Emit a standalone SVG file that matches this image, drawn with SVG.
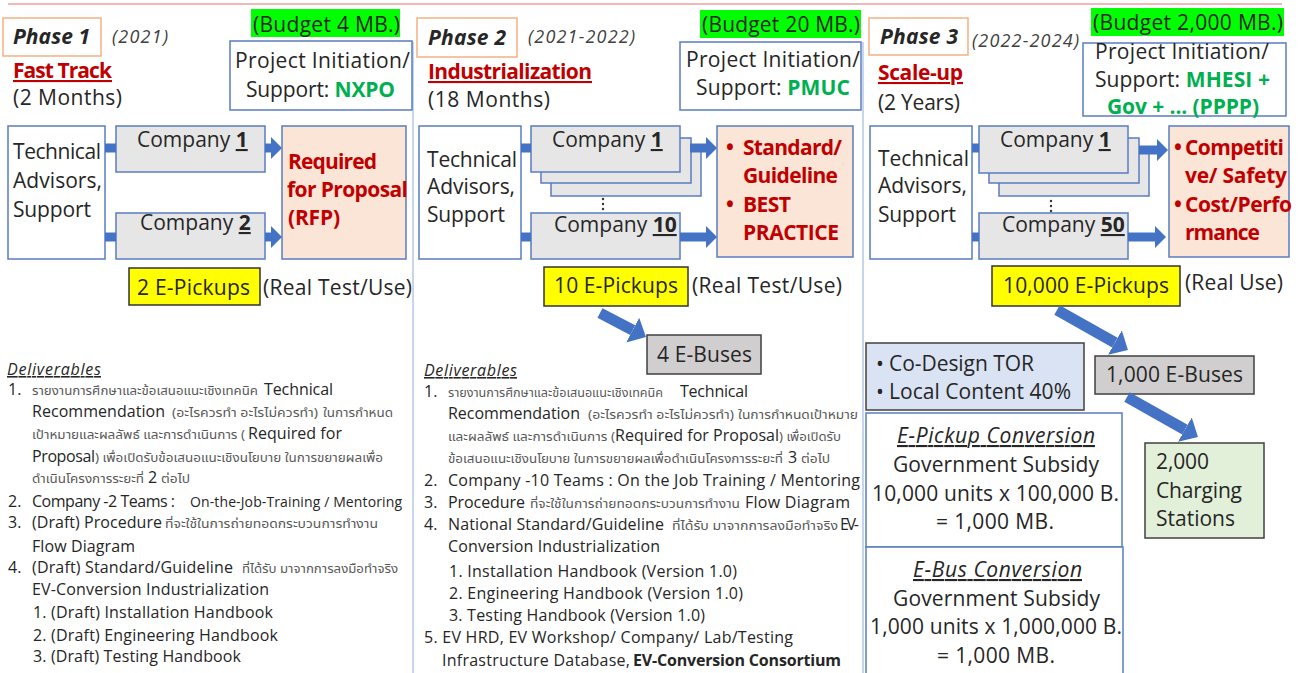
<svg xmlns="http://www.w3.org/2000/svg" width="1305" height="673" viewBox="0 0 1305 673">
<defs>
<style>
text{font-family:"Open Sans","Liberation Sans",sans-serif;fill:#262626;}
.L{font-size:21px;}
.D{font-size:16px;}
.S{font-size:14px;}
.th{font-family:"Noto Sans Thai","Open Sans",sans-serif;font-size:12px;fill:#595959;}
.b{font-weight:bold;}
.i{font-style:italic;}
.u{text-decoration:underline;}
.yr{font-style:italic;font-size:18px;fill:#404040;}
.red{fill:#c00000;font-weight:bold;}
.grn{fill:#00b050;font-weight:bold;}
.box{fill:#fff;stroke:#5a7cc0;stroke-width:1.5;}
.comp{fill:#e7e6e6;stroke:#5a7cc0;stroke-width:1.5;}
.res{fill:#fbe5d6;stroke:#5a7cc0;stroke-width:1.5;}
.bud{fill:#00ff00;}
.yel{fill:#ffff00;stroke:#333;stroke-width:1.5;}
.ph{fill:#fff;stroke:#f4b183;stroke-width:1.5;}
.gray{fill:#d0cece;stroke:#404040;stroke-width:1.5;}
.lb{fill:#dae3f3;stroke:#404040;stroke-width:1.5;}
.lg{fill:#e2f0d9;stroke:#404040;stroke-width:1.5;}
.sep{stroke:#b4c7e7;stroke-width:1.5;}
.stub{stroke:#4472c4;stroke-width:9;}
.arr{stroke:#4472c4;stroke-width:9;marker-end:url(#ah);}
.darr{stroke:#4472c4;stroke-width:11;marker-end:url(#ahd);}
.dot{fill:#333;}
</style>
<marker id="ah" markerUnits="userSpaceOnUse" markerWidth="12" markerHeight="22" refX="0" refY="11" orient="auto"><path d="M0,0 L11,11 L0,22 Z" fill="#4472c4"/></marker>
<marker id="ahd" markerUnits="userSpaceOnUse" markerWidth="16" markerHeight="28" refX="0" refY="14" orient="auto"><path d="M0,0 L15,14 L0,28 Z" fill="#4472c4"/></marker>
</defs>
<rect x="0" y="0" width="1305" height="673" fill="#fff"/>
<line x1="8" y1="4" x2="1282" y2="4" stroke="#f2b8b8" stroke-width="2"/>
<line class="sep" x1="413" y1="42" x2="413" y2="673"/>
<line class="sep" x1="863" y1="42" x2="863" y2="673"/>

<!-- ================= PHASE 1 ================= -->
<g id="p1-header">
<rect class="ph" x="3" y="18" width="98" height="38"/>
<text class="L b i" x="13" y="44" textLength="77">Phase 1</text>
<text class="yr" x="112" y="43" textLength="56">(2021)</text>
<text class="L red u" x="13" y="78" textLength="99">Fast Track</text>
<text class="L" x="13" y="105" textLength="109">(2 Months)</text>
</g>
<g id="p1-budget">
<rect class="bud" x="251" y="9" width="149" height="28"/>
<text class="L" x="253" y="32" textLength="147">(Budget 4 MB.)</text>
</g>
<g id="p1-initiation">
<rect class="box" x="230" y="41" width="182" height="69"/>
<text class="L" x="235" y="68" textLength="175">Project Initiation/</text>
<text class="L" x="246" y="97" textLength="149">Support: <tspan class="grn">NXPO</tspan></text>
</g>
<g id="p1-advisors">
<rect class="box" x="8" y="126" width="97" height="133"/>
<text class="L" x="13" y="159" textLength="88">Technical</text>
<text class="L" x="13" y="188" textLength="89">Advisors,</text>
<text class="L" x="13" y="217" textLength="78">Support</text>
</g>
<g id="p1-company1">
<rect class="comp" x="116" y="126" width="149" height="46"/>
<text class="L" x="137" y="147">Company <tspan class="b u">1</tspan></text>
</g>
<g id="p1-company2">
<rect class="comp" x="116" y="213" width="149" height="46"/>
<text class="L" x="140" y="230">Company <tspan class="b u">2</tspan></text>
</g>
<g id="p1-rfp">
<rect class="res" x="282" y="126" width="124" height="133"/>
<text class="L red" x="288" y="169" textLength="89">Required</text>
<text class="L red" x="287" y="197" textLength="121">for Proposal</text>
<text class="L red" x="288" y="225" textLength="52">(RFP)</text>
</g>
<g id="p1-pickups">
<rect class="yel" x="129" y="268" width="131" height="37"/>
<text class="L" x="137" y="295" textLength="113">2 E-Pickups</text>
<text class="L" x="263" y="295" textLength="149">(Real Test/Use)</text>
</g>
<g id="p1-deliverables">
<text class="D i u" x="7" y="375" textLength="94">Deliverables</text>
<text class="D" x="8" y="395">1.</text>
<text class="th" x="32" y="395" textLength="226" lengthAdjust="spacingAndGlyphs">รายงานการศึกษาและข้อเสนอแนะเชิงเทคนิค</text>
<text class="D" x="264" y="395" textLength="69">Technical</text>
<text class="D" x="32" y="417" textLength="133">Recommendation</text>
<text class="th" x="172" y="417" textLength="146" lengthAdjust="spacingAndGlyphs">(อะไรควรทำ อะไรไม่ควรทำ)</text>
<text class="th" x="323" y="417" textLength="70" lengthAdjust="spacingAndGlyphs">ในการกำหนด</text>
<text class="th" x="32" y="439" textLength="213" lengthAdjust="spacingAndGlyphs">เป้าหมายและผลลัพธ์ และการดำเนินการ (</text>
<text class="D" x="248" y="439" textLength="94">Required for</text>
<text class="D" x="32" y="462" textLength="63">Proposal</text>
<text class="th" x="95" y="462" textLength="288" lengthAdjust="spacingAndGlyphs">) เพื่อเปิดรับข้อเสนอแนะเชิงนโยบาย ในการขยายผลเพื่อ</text>
<text class="th" x="32" y="483" textLength="112" lengthAdjust="spacingAndGlyphs">ดำเนินโครงการระยะที่</text>
<text class="D" x="148" y="483">2</text>
<text class="th" x="161" y="483" textLength="29" lengthAdjust="spacingAndGlyphs">ต่อไป</text>
<text class="D" x="8" y="507">2.</text>
<text class="D" x="32" y="507" textLength="143">Company -2 Teams :</text>
<text class="S" x="190" y="507" textLength="212">On-the-Job-Training / Mentoring</text>
<text class="D" x="8" y="528">3.</text>
<text class="D" x="32" y="528" textLength="130">(Draft) Procedure</text>
<text class="th" x="165" y="528" textLength="213" lengthAdjust="spacingAndGlyphs">ที่จะใช้ในการถ่ายทอดกระบวนการทำงาน</text>
<text class="D" x="32" y="552" textLength="103">Flow Diagram</text>
<text class="D" x="8" y="573">4.</text>
<text class="D" x="32" y="573" textLength="201">(Draft) Standard/Guideline</text>
<text class="th" x="242" y="573" textLength="156" lengthAdjust="spacingAndGlyphs">ที่ได้รับ มาจากการลงมือทำจริง</text>
<text class="D" x="32" y="595" textLength="237">EV-Conversion Industrialization</text>
<text class="D" x="33" y="618" textLength="240">1. (Draft) Installation Handbook</text>
<text class="D" x="33" y="641" textLength="245">2. (Draft) Engineering Handbook</text>
<text class="D" x="33" y="662" textLength="208">3. (Draft) Testing Handbook</text>
</g>

<!-- ================= PHASE 2 ================= -->
<g id="p2-header">
<rect class="ph" x="417" y="18" width="100" height="39"/>
<text class="L b i" x="428" y="45" textLength="78">Phase 2</text>
<text class="yr" x="528" y="43" textLength="107">(2021-2022)</text>
<text class="L red u" x="428" y="79" textLength="164">Industrialization</text>
<text class="L" x="428" y="107" textLength="122">(18 Months)</text>
</g>
<g id="p2-budget">
<rect class="bud" x="700" y="10" width="161" height="28"/>
<text class="L" x="702" y="32" textLength="158">(Budget 20 MB.)</text>
</g>
<g id="p2-initiation">
<rect class="box" x="680" y="42" width="181" height="68"/>
<text class="L" x="686" y="67" textLength="174">Project Initiation/</text>
<text class="L" x="696" y="95" textLength="154">Support: <tspan class="grn">PMUC</tspan></text>
</g>
<g id="p2-advisors">
<rect class="box" x="419" y="126" width="102" height="133"/>
<text class="L" x="427" y="167" textLength="90">Technical</text>
<text class="L" x="427" y="194" textLength="88">Advisors,</text>
<text class="L" x="427" y="222" textLength="78">Support</text>
</g>
<g id="p2-company1">
<rect class="comp" x="551" y="150" width="150" height="46"/>
<rect class="comp" x="541" y="138" width="150" height="45"/>
<rect class="comp" x="531" y="126" width="149" height="46"/>
<text class="L" x="552" y="147">Company <tspan class="b u">1</tspan></text>
<circle class="dot" cx="603" cy="199" r="1.2"/>
<circle class="dot" cx="603" cy="204" r="1.2"/>
<circle class="dot" cx="603" cy="209" r="1.2"/>
</g>
<g id="p2-company10">
<rect class="comp" x="531" y="213" width="149" height="46"/>
<text class="L" x="554" y="232">Company <tspan class="b u">10</tspan></text>
</g>
<g id="p2-standard">
<rect class="res" x="717" y="126" width="136" height="131"/>
<text class="L red" x="726" y="155">•</text>
<text class="L red" x="743" y="155" textLength="99">Standard/</text>
<text class="L red" x="743" y="183" textLength="95">Guideline</text>
<text class="L red" x="726" y="212">•</text>
<text class="L red" x="743" y="212" textLength="48">BEST</text>
<text class="L red" x="743" y="240" textLength="96">PRACTICE</text>
</g>
<g id="p2-pickups">
<rect class="yel" x="544" y="267" width="144" height="39"/>
<text class="L" x="554" y="293" textLength="124">10 E-Pickups</text>
<text class="L" x="692" y="293" textLength="150">(Real Test/Use)</text>
</g>
<g id="p2-buses">
<rect class="gray" x="647" y="335" width="114" height="39"/>
<text class="L" x="657" y="362" textLength="95">4 E-Buses</text>
</g>
<g id="p2-deliverables">
<text class="D i u" x="424" y="376" textLength="93">Deliverables</text>
<text class="D" x="424" y="397">1.</text>
<text class="th" x="448" y="397" textLength="215" lengthAdjust="spacingAndGlyphs">รายงานการศึกษาและข้อเสนอแนะเชิงเทคนิค</text>
<text class="D" x="680" y="397" textLength="68">Technical</text>
<text class="D" x="448" y="419" textLength="132">Recommendation</text>
<text class="th" x="588" y="419" textLength="146" lengthAdjust="spacingAndGlyphs">(อะไรควรทำ อะไรไม่ควรทำ)</text>
<text class="th" x="738" y="419" textLength="120" lengthAdjust="spacingAndGlyphs">ในการกำหนดเป้าหมาย</text>
<text class="th" x="448" y="441" textLength="167" lengthAdjust="spacingAndGlyphs">และผลลัพธ์ และการดำเนินการ (</text>
<text class="D" x="615" y="441" textLength="164">Required for Proposal</text>
<text class="th" x="779" y="441" textLength="62" lengthAdjust="spacingAndGlyphs">) เพื่อเปิดรับ</text>
<text class="th" x="448" y="463" textLength="335" lengthAdjust="spacingAndGlyphs">ข้อเสนอแนะเชิงนโยบาย ในการขยายผลเพื่อดำเนินโครงการระยะที่</text>
<text class="D" x="788" y="463">3</text>
<text class="th" x="801" y="463" textLength="29" lengthAdjust="spacingAndGlyphs">ต่อไป</text>
<text class="D" x="424" y="486">2.</text>
<text class="D" x="448" y="486" textLength="412">Company -10 Teams : On the Job Training / Mentoring</text>
<text class="D" x="424" y="508">3.</text>
<text class="D" x="448" y="508" textLength="77">Procedure</text>
<text class="th" x="530" y="508" textLength="210" lengthAdjust="spacingAndGlyphs">ที่จะใช้ในการถ่ายทอดกระบวนการทำงาน</text>
<text class="D" x="745" y="508" textLength="105">Flow Diagram</text>
<text class="D" x="424" y="530">4.</text>
<text class="D" x="448" y="530" textLength="216">National Standard/Guideline</text>
<text class="th" x="672" y="530" textLength="166" lengthAdjust="spacingAndGlyphs">ที่ได้รับ มาจากการลงมือทำจริง</text>
<text class="D" x="840" y="530" textLength="19">EV-</text>
<text class="D" x="448" y="552" textLength="212">Conversion Industrialization</text>
<text class="D" x="449" y="577" textLength="288">1. Installation Handbook (Version 1.0)</text>
<text class="D" x="449" y="599" textLength="294">2. Engineering Handbook (Version 1.0)</text>
<text class="D" x="449" y="621" textLength="256">3. Testing Handbook (Version 1.0)</text>
<text class="D" x="424" y="643" textLength="369">5. EV HRD, EV Workshop/ Company/ Lab/Testing</text>
<text class="D" x="442" y="666" textLength="188">Infrastructure Database,</text>
<text class="D b" x="633" y="666" textLength="208">EV-Conversion Consortium</text>
</g>

<!-- ================= PHASE 3 ================= -->
<g id="p3-header">
<rect class="ph" x="869" y="18" width="99" height="37"/>
<text class="L b i" x="880" y="44" textLength="78">Phase 3</text>
<text class="yr" x="972" y="47" textLength="107">(2022-2024)</text>
<text class="L red u" x="878" y="80" textLength="85">Scale-up</text>
<text class="L" x="878" y="110" textLength="82">(2 Years)</text>
</g>
<g id="p3-budget">
<rect class="bud" x="1091" y="8" width="193" height="28"/>
<text class="L" x="1093" y="30" textLength="190">(Budget 2,000 MB.)</text>
</g>
<g id="p3-initiation">
<rect class="box" x="1083" y="43" width="203" height="73"/>
<text class="L" x="1095" y="59" textLength="174">Project Initiation/</text>
<text class="L" x="1095" y="87" textLength="175">Support: <tspan class="grn">MHESI +</tspan></text>
<text class="L grn" x="1107" y="114" textLength="152">Gov + ... (PPPP)</text>
</g>
<g id="p3-advisors">
<rect class="box" x="870" y="126" width="102" height="133"/>
<text class="L" x="878" y="166" textLength="91">Technical</text>
<text class="L" x="878" y="193" textLength="89">Advisors,</text>
<text class="L" x="878" y="222" textLength="78">Support</text>
</g>
<g id="p3-company1">
<rect class="comp" x="999" y="150" width="150" height="46"/>
<rect class="comp" x="989" y="138" width="150" height="45"/>
<rect class="comp" x="979" y="126" width="149" height="47"/>
<text class="L" x="1000" y="147">Company <tspan class="b u">1</tspan></text>
<circle class="dot" cx="1051" cy="201" r="1.2"/>
<circle class="dot" cx="1051" cy="206" r="1.2"/>
<circle class="dot" cx="1051" cy="211" r="1.2"/>
</g>
<g id="p3-company50">
<rect class="comp" x="979" y="213" width="149" height="46"/>
<text class="L" x="1002" y="232">Company <tspan class="b u">50</tspan></text>
</g>
<g id="p3-results">
<rect class="res" x="1169" y="126" width="120" height="131"/>
<text class="L red" x="1174" y="155">•</text>
<text class="L red" x="1185" y="155" textLength="99">Competiti</text>
<text class="L red" x="1185" y="183" textLength="102">ve/ Safety</text>
<text class="L red" x="1174" y="212">•</text>
<text class="L red" x="1185" y="212" textLength="107">Cost/Perfo</text>
<text class="L red" x="1185" y="240" textLength="75">rmance</text>
</g>
<g id="p3-pickups">
<rect class="yel" x="992" y="266" width="188" height="40"/>
<text class="L" x="1003" y="293" textLength="166">10,000 E-Pickups</text>
<text class="L" x="1185" y="290" textLength="98">(Real Use)</text>
</g>
<g id="p3-buses">
<rect class="gray" x="1095" y="356" width="159" height="38"/>
<text class="L" x="1106" y="382" textLength="137">1,000 E-Buses</text>
</g>
<g id="p3-charging">
<rect class="lg" x="1145" y="443" width="119" height="95"/>
<text class="L" x="1156" y="469" textLength="53">2,000</text>
<text class="L" x="1156" y="498" textLength="86">Charging</text>
<text class="L" x="1156" y="526" textLength="79">Stations</text>
</g>
<g id="p3-codesign">
<rect class="lb" x="866" y="343" width="218" height="67"/>
<text class="L" x="876" y="371">•</text>
<text class="L" x="889" y="371" textLength="145">Co-Design TOR</text>
<text class="L" x="876" y="399">•</text>
<text class="L" x="889" y="399" textLength="182">Local Content 40%</text>
</g>
<g id="p3-pickup-conversion">
<rect class="box" x="866" y="413" width="256" height="134"/>
<text class="L i u" x="897" y="443" textLength="198">E-Pickup Conversion</text>
<text class="L" x="893" y="472" textLength="206">Government Subsidy</text>
<text class="L" x="872" y="501" textLength="247">10,000 units x 100,000 B.</text>
<text class="L" x="936" y="529" textLength="118">= 1,000 MB.</text>
</g>
<g id="p3-bus-conversion">
<rect class="box" x="866" y="547" width="257" height="130"/>
<text class="L i u" x="913" y="577" textLength="169">E-Bus Conversion</text>
<text class="L" x="893" y="606" textLength="207">Government Subsidy</text>
<text class="L" x="870" y="634" textLength="252">1,000 units x 1,000,000 B.</text>
<text class="L" x="937" y="663" textLength="118">= 1,000 MB.</text>
</g>

<!-- ================= CONNECTORS ================= -->
<g id="connectors">
<line class="stub" x1="105" y1="148" x2="116" y2="148"/>
<line class="stub" x1="105" y1="237" x2="116" y2="237"/>
<line class="arr" x1="265" y1="148" x2="271" y2="148"/>
<line class="arr" x1="265" y1="237" x2="271" y2="237"/>
<line class="stub" x1="521" y1="148" x2="531" y2="148"/>
<line class="stub" x1="521" y1="237" x2="531" y2="237"/>
<line class="arr" x1="690" y1="148" x2="706" y2="148"/>
<line class="arr" x1="680" y1="237" x2="706" y2="237"/>
<line class="darr" x1="600" y1="313" x2="632.7" y2="330.1"/>
<line class="stub" x1="972" y1="148" x2="979" y2="148"/>
<line class="stub" x1="972" y1="237" x2="979" y2="237"/>
<line class="arr" x1="1139" y1="150" x2="1157" y2="150"/>
<line class="arr" x1="1128" y1="237" x2="1155" y2="237"/>
<line class="darr" x1="1057" y1="310" x2="1114.9" y2="342.6"/>
<line class="darr" x1="1127" y1="397" x2="1184.9" y2="429.6"/>
</g>
</svg>
